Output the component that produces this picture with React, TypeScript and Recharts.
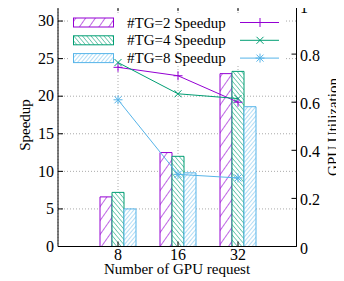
import React from 'react';
import { ComposedChart, Bar, Line, XAxis, YAxis, CartesianGrid, Customized } from 'recharts';

// GPU counts on the x axis
const gpuRequests = ['8', '16', '32'];

// bar values (speedup, left axis)
const speedupTG2 = [6.6, 12.5, 23.0];
const speedupTG4 = [7.2, 12.0, 23.3];
const speedupTG8 = [5.0, 9.8, 18.6];

// line values (GPU utilization, right axis)
const utilTG2 = [0.745, 0.71, 0.6];
const utilTG4 = [0.765, 0.635, 0.615];
const utilTG8 = [0.61, 0.3, 0.285];

const leftTicks = [0, 5, 10, 15, 20, 25, 30];
const rightTicks = [0, 0.2, 0.4, 0.6, 0.8, 1];

const PURPLE = '#9400D3';
const GREEN = '#009E73';
const BLUE = '#56B4E9';
const FONT = '"Liberation Serif", "DejaVu Serif", serif';

const data = gpuRequests.map((g, i) => ({
  gpus: g,
  s2: speedupTG2[i],
  s4: speedupTG4[i],
  s8: speedupTG8[i],
  u2: utilTG2[i],
  u4: utilTG4[i],
  u8: utilTG8[i],
}));

// plot frame
const PL = 58;
const PR = 296.5;
const PT = 6;
const PB = 246.5;

const Marker = ({ kind, cx, cy, color }: { kind: string; cx: number; cy: number; color: string }) => {
  const r = 4.5;
  const d = 3.5;
  const plus = (
    <>
      <line x1={cx - r} x2={cx + r} y1={cy} y2={cy} stroke={color} />
      <line x1={cx} x2={cx} y1={cy - r} y2={cy + r} stroke={color} />
    </>
  );
  const cross = (
    <>
      <line x1={cx - d} x2={cx + d} y1={cy - d} y2={cy + d} stroke={color} />
      <line x1={cx - d} x2={cx + d} y1={cy + d} y2={cy - d} stroke={color} />
    </>
  );
  return (
    <g>
      {(kind === 'plus' || kind === 'star') && plus}
      {(kind === 'cross' || kind === 'star') && cross}
    </g>
  );
};

const dotFor = (kind: string, color: string) => (props: any) => (
  <Marker key={`${kind}-${props.index}`} kind={kind} cx={props.cx} cy={props.cy} color={color} />
);

const LeftTick = (props: any) => (
  <g>
    <line x1={PL} x2={PL + 5} y1={props.y} y2={props.y} stroke="#000" />
    <text x={PL - 4} y={props.y + 5.3} textAnchor="end" fontSize={16} fontFamily={FONT} fill="#000">
      {props.payload.value}
    </text>
  </g>
);

const RightTick = (props: any) => (
  <g>
    <line x1={PR} x2={PR - 5} y1={props.y} y2={props.y} stroke="#000" />
    <text x={PR + 3.5} y={props.y + 7} textAnchor="start" fontSize={16} fontFamily={FONT} fill="#000">
      {props.payload.value}
    </text>
  </g>
);

const BottomTick = (props: any) => (
  <g>
    <line x1={props.x} x2={props.x} y1={PB} y2={PB - 5} stroke="#000" />
    <line x1={props.x} x2={props.x} y1={PT} y2={PT + 5} stroke="#000" />
    <text x={props.x} y={260} textAnchor="middle" fontSize={16} fontFamily={FONT} fill="#000">
      {props.payload.value}
    </text>
  </g>
);

const legendRows = [
  { label: '#TG=2 Speedup', color: PURPLE, pat: 'url(#patTG2)', kind: 'plus' },
  { label: '#TG=4 Speedup', color: GREEN, pat: 'url(#patTG4)', kind: 'cross' },
  { label: '#TG=8 Speedup', color: BLUE, pat: 'url(#patTG8)', kind: 'star' },
];

const Decor = () => (
  <g>
    <line x1={PL} x2={PR} y1={PT} y2={PT} stroke="#000" />
    <rect x={68} y={14} width={216} height={52} fill="#fff" />
    {legendRows.map((r, i) => {
      const cy = 22.5 + i * 17.8;
      return (
        <g key={r.label}>
          <rect x={73.5} y={cy - 4.5} width={40} height={9} fill={r.pat} stroke={r.color} />
          <text x={127} y={cy + 5} fontSize={15} fontFamily={FONT} fill="#000">
            {r.label}
          </text>
          <line x1={240} x2={279} y1={cy} y2={cy} stroke={r.color} />
          <Marker kind={r.kind} cx={260} cy={cy} color={r.color} />
        </g>
      );
    })}
    <text transform="translate(30,125) rotate(-90)" textAnchor="middle" fontSize={15} fontFamily={FONT} fill="#000">
      Speedup
    </text>
    <text transform="translate(6,92) rotate(-90)" textAnchor="middle" fontSize={15} fontFamily={FONT} fill="#000">
      GPU Utilization
    </text>
    <text transform="translate(338,127) rotate(-90)" textAnchor="middle" fontSize={15} fontFamily={FONT} fill="#000">
      GPU Utilization
    </text>
    <text x={177} y={274} textAnchor="middle" fontSize={15} fontFamily={FONT} fill="#000">
      Number of GPU request
    </text>
  </g>
);

const App = () => {
  return (
    <div style={{ marginLeft: -8, marginTop: -8, width: 344, height: 281, background: '#fff' }}>
      <svg width={0} height={0} style={{ position: 'absolute' }}>
        <defs>
          <pattern id="patTG2" patternUnits="userSpaceOnUse" width={8} height={8} patternTransform="rotate(35)">
            <rect width={8} height={8} fill="#fff" />
            <line x1={0} y1={0} x2={0} y2={8} stroke={PURPLE} strokeWidth={1.2} />
          </pattern>
          <pattern id="patTG4" patternUnits="userSpaceOnUse" width={3.3} height={3.3} patternTransform="rotate(-40)">
            <rect width={3.3} height={3.3} fill="#fff" />
            <line x1={0} y1={0} x2={0} y2={3.3} stroke={GREEN} strokeWidth={1} />
          </pattern>
          <pattern id="patTG8" patternUnits="userSpaceOnUse" width={3} height={3} patternTransform="rotate(40)">
            <rect width={3} height={3} fill="#fff" />
            <line x1={0} y1={0} x2={0} y2={3} stroke={BLUE} strokeWidth={0.9} />
          </pattern>
        </defs>
      </svg>
      <ComposedChart
        width={344}
        height={281}
        data={data}
        margin={{ top: PT, right: 0, bottom: 0, left: 0 }}
        barGap={0}
      >
        <CartesianGrid stroke="#aaa" strokeDasharray="1 2" yAxisId="left" />
        <XAxis
          dataKey="gpus"
          height={34.5}
          padding={{ left: 30, right: 28.5 }}
          axisLine={{ stroke: '#000' }}
          tickLine={false}
          tick={<BottomTick />}
          interval={0}
        />
        <YAxis
          yAxisId="left"
          width={PL}
          domain={[0, 32]}
          ticks={leftTicks}
          axisLine={{ stroke: '#000' }}
          tickLine={false}
          tick={<LeftTick />}
          interval={0}
        />
        <YAxis
          yAxisId="right"
          orientation="right"
          width={344 - PR}
          domain={[0, 1]}
          ticks={rightTicks}
          axisLine={{ stroke: '#000' }}
          tickLine={false}
          tick={<RightTick />}
          interval={0}
        />
        <Customized component={<Decor />} />
        <Bar yAxisId="left" dataKey="s2" barSize={12} fill="url(#patTG2)" stroke={PURPLE} isAnimationActive={false} />
        <Bar yAxisId="left" dataKey="s4" barSize={12} fill="url(#patTG4)" stroke={GREEN} isAnimationActive={false} />
        <Bar yAxisId="left" dataKey="s8" barSize={12} fill="url(#patTG8)" stroke={BLUE} isAnimationActive={false} />
        <Line yAxisId="right" dataKey="u2" stroke={PURPLE} strokeWidth={1} dot={dotFor('plus', PURPLE)} isAnimationActive={false} />
        <Line yAxisId="right" dataKey="u4" stroke={GREEN} strokeWidth={1} dot={dotFor('cross', GREEN)} isAnimationActive={false} />
        <Line yAxisId="right" dataKey="u8" stroke={BLUE} strokeWidth={1} dot={dotFor('star', BLUE)} isAnimationActive={false} />
      </ComposedChart>
    </div>
  );
};

export default App;
